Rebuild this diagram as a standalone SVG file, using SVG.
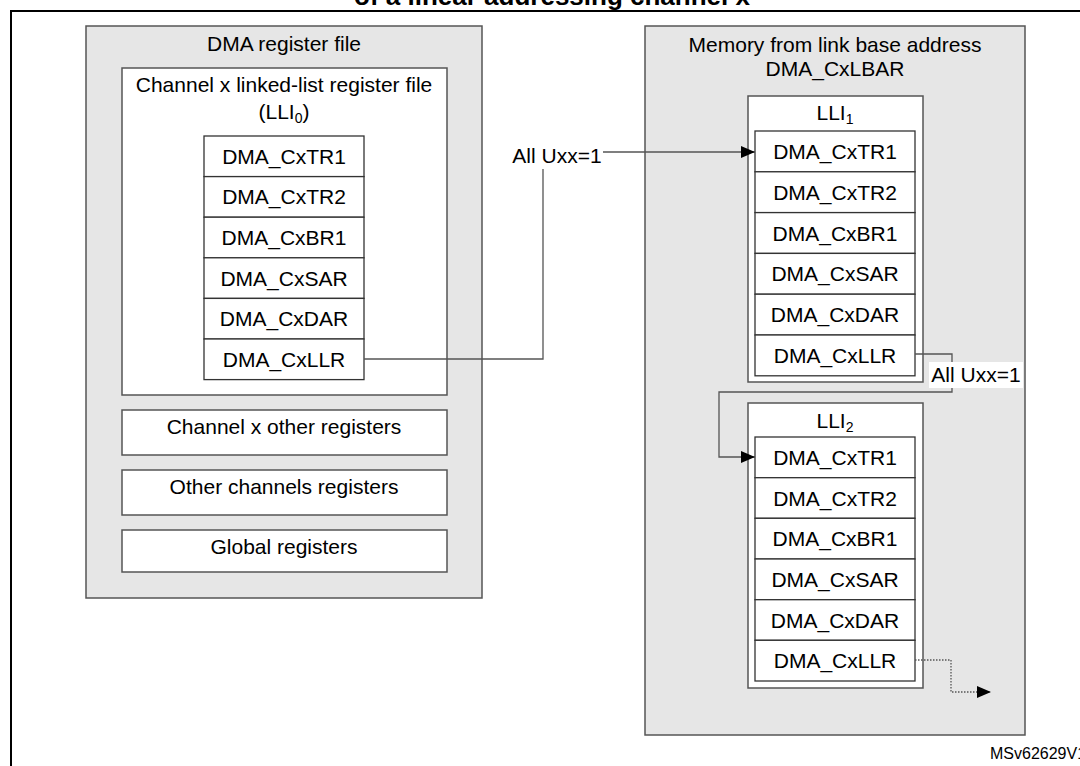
<svg xmlns="http://www.w3.org/2000/svg" width="1080" height="766" viewBox="0 0 1080 766">
<style>
.t{font-family:"Liberation Sans",Arial,sans-serif;font-size:21px;fill:#000;text-anchor:middle}
.panel{fill:#e6e6e6;stroke:#555;stroke-width:1.5}
.box{fill:#fff;stroke:#555;stroke-width:1.5}
.reg{fill:#fff;stroke:#333;stroke-width:1.3}
.conn{fill:none;stroke:#555;stroke-width:1.3}
.dot{fill:none;stroke:#555;stroke-width:1.3;stroke-dasharray:1.5 1.5}
</style>
<defs>
<marker id="ah" markerUnits="userSpaceOnUse" markerWidth="14" markerHeight="12" refX="14" refY="6" orient="auto">
<path d="M0,0 L14,6 L0,12 z" fill="#000"/>
</marker>
</defs>
<rect x="0" y="0" width="1080" height="766" fill="#fff"/>
<text x="552" y="4.5" style="font-family:'Liberation Sans',Arial,sans-serif;font-size:26px;font-weight:bold;text-anchor:middle">of a linear addressing channel x</text>
<rect x="11" y="11" width="1100" height="800" fill="none" stroke="#000" stroke-width="2"/>

<g id="dma-register-file">
<rect class="panel" x="86" y="26" width="396" height="572"/>
<text class="t" x="284" y="51">DMA register file</text>
</g>
<g id="lli0">
<rect class="box" x="122" y="68" width="325" height="327"/>
<text class="t" x="284" y="92">Channel x linked-list register file</text>
<text class="t" x="284" y="119">(LLI<tspan font-size="14" dy="4">0</tspan><tspan dy="-4">)</tspan></text>
<rect class="reg" x="204" y="136" width="160" height="40.6"/>
<rect class="reg" x="204" y="176.6" width="160" height="40.6"/>
<rect class="reg" x="204" y="217.2" width="160" height="40.6"/>
<rect class="reg" x="204" y="257.8" width="160" height="40.6"/>
<rect class="reg" x="204" y="298.4" width="160" height="40.6"/>
<rect class="reg" x="204" y="339" width="160" height="40.6"/>
<text class="t" x="284" y="163.8">DMA_CxTR1</text>
<text class="t" x="284" y="204.4">DMA_CxTR2</text>
<text class="t" x="284" y="245">DMA_CxBR1</text>
<text class="t" x="284" y="285.6">DMA_CxSAR</text>
<text class="t" x="284" y="326.2">DMA_CxDAR</text>
<text class="t" x="284" y="366.8">DMA_CxLLR</text>
</g>
<g id="channel-other">
<rect class="box" x="122" y="410" width="325" height="45"/>
<text class="t" x="284" y="434">Channel x other registers</text>
</g>
<g id="other-channels">
<rect class="box" x="122" y="470" width="325" height="45"/>
<text class="t" x="284" y="494">Other channels registers</text>
</g>
<g id="global">
<rect class="box" x="122" y="530" width="325" height="42"/>
<text class="t" x="284" y="554">Global registers</text>
</g>

<g id="memory">
<rect class="panel" x="645" y="26" width="380" height="709"/>
<text class="t" x="835" y="52">Memory from link base address</text>
<text class="t" x="835" y="76">DMA_CxLBAR</text>
</g>
<g id="lli1">
<rect class="box" x="748" y="96" width="175" height="286"/>
<text class="t" x="835" y="120">LLI<tspan font-size="14" dy="4">1</tspan></text>
<rect class="reg" x="755" y="131" width="160" height="40.8"/>
<rect class="reg" x="755" y="171.8" width="160" height="40.8"/>
<rect class="reg" x="755" y="212.6" width="160" height="40.8"/>
<rect class="reg" x="755" y="253.4" width="160" height="40.8"/>
<rect class="reg" x="755" y="294.2" width="160" height="40.8"/>
<rect class="reg" x="755" y="335" width="160" height="40.8"/>
<text class="t" x="835" y="158.9">DMA_CxTR1</text>
<text class="t" x="835" y="199.7">DMA_CxTR2</text>
<text class="t" x="835" y="240.5">DMA_CxBR1</text>
<text class="t" x="835" y="281.3">DMA_CxSAR</text>
<text class="t" x="835" y="322.1">DMA_CxDAR</text>
<text class="t" x="835" y="362.9">DMA_CxLLR</text>
</g>
<g id="lli2">
<rect class="box" x="748" y="403" width="175" height="285"/>
<text class="t" x="835" y="428">LLI<tspan font-size="14" dy="4">2</tspan></text>
<rect class="reg" x="755" y="437" width="160" height="40.7"/>
<rect class="reg" x="755" y="477.7" width="160" height="40.6"/>
<rect class="reg" x="755" y="518.3" width="160" height="40.7"/>
<rect class="reg" x="755" y="559" width="160" height="40.7"/>
<rect class="reg" x="755" y="599.7" width="160" height="40.6"/>
<rect class="reg" x="755" y="640.3" width="160" height="40.7"/>
<text class="t" x="835" y="464.8">DMA_CxTR1</text>
<text class="t" x="835" y="505.5">DMA_CxTR2</text>
<text class="t" x="835" y="546.2">DMA_CxBR1</text>
<text class="t" x="835" y="586.8">DMA_CxSAR</text>
<text class="t" x="835" y="627.5">DMA_CxDAR</text>
<text class="t" x="835" y="668.2">DMA_CxLLR</text>
</g>

<g id="connectors">
<path class="conn" d="M364,359 H543 V169"/>
<path class="conn" d="M603,152 H755" marker-end="url(#ah)"/>
<text class="t" x="557" y="163">All Uxx=1</text>
<path class="conn" d="M915,354 H952 V392 H719 V457 H755" marker-end="url(#ah)"/>
<rect x="929" y="362" width="94" height="26" fill="#fff"/>
<text class="t" x="976" y="382">All Uxx=1</text>
<path class="dot" d="M915,660 H951 V692 H991" marker-end="url(#ah)"/>
</g>
<text x="990" y="759" style="font-family:'Liberation Sans',Arial,sans-serif;font-size:16px">MSv62629V1</text>
</svg>
